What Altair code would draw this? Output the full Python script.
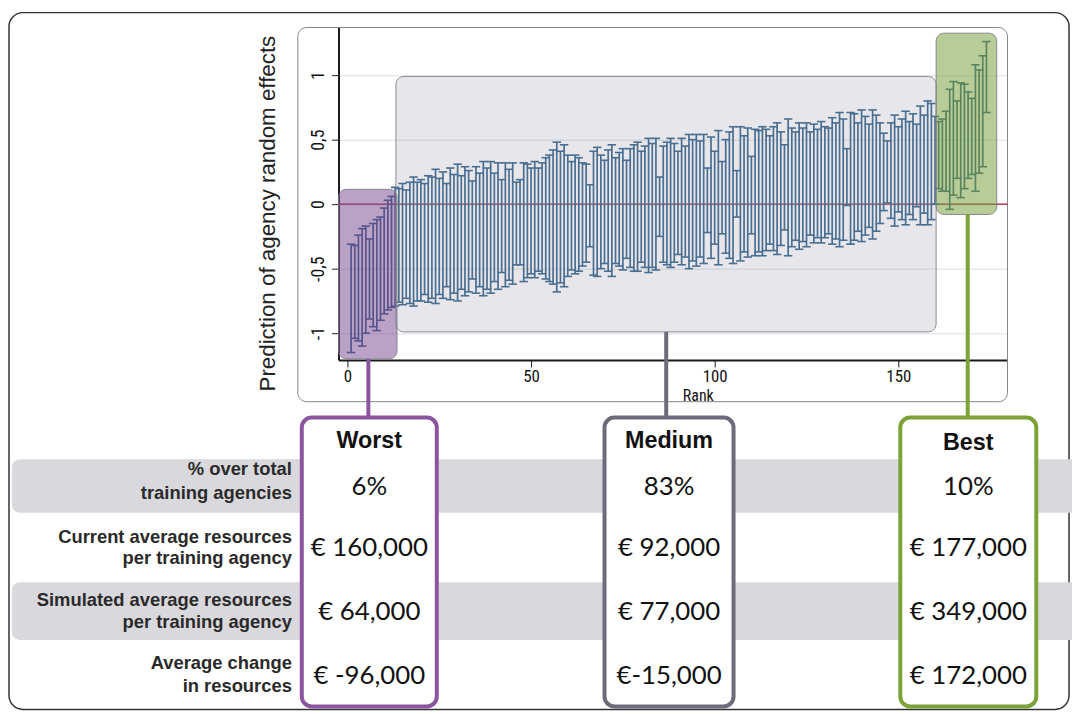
import altair as alt
import pandas as pd

# ---------------- data ----------------
lower = [
    # worst
    -1.15, -1.04, -1.06, -1.10, -1.00, -0.89, -0.95, -0.98, -0.90, -0.85, -0.82, -0.80,
    # medium
    -0.79, -0.76, -0.78, -0.73, -0.77, -0.79, -0.75, -0.75, -0.70, -0.76,
    -0.73, -0.77, -0.70, -0.73, -0.64, -0.74, -0.69, -0.75, -0.66, -0.71,
    -0.68, -0.58, -0.69, -0.64, -0.71, -0.66, -0.69, -0.60, -0.66, -0.53,
    -0.64, -0.59, -0.62, -0.47, -0.47, -0.60, -0.57, -0.54, -0.57, -0.52,
    -0.54, -0.58, -0.60, -0.62, -0.68, -0.61, -0.64, -0.56, -0.51, -0.54,
    -0.52, -0.48, -0.45, -0.33, -0.55, -0.56, -0.50, -0.46, -0.52, -0.56,
    -0.46, -0.48, -0.51, -0.42, -0.49, -0.52, -0.52, -0.45, -0.49, -0.53,
    -0.49, -0.51, -0.25, -0.45, -0.47, -0.49, -0.45, -0.39, -0.47, -0.41, -0.50,
    -0.44, -0.48, -0.41, -0.46, -0.22, -0.42, -0.31, -0.47, -0.23, -0.38,
    -0.42, -0.46, -0.10, -0.44, -0.37, -0.41, -0.23, -0.40, -0.37, -0.40,
    -0.36, -0.31, -0.36, -0.39, -0.32, -0.20, -0.40, -0.33, -0.28, -0.35,
    -0.29, -0.33, -0.24, -0.30, -0.26, -0.30, -0.26, -0.23, -0.31, -0.27,
    -0.33, -0.28, -0.01, -0.31, -0.28, -0.21, -0.29, -0.24, -0.18, -0.27,
    -0.21, -0.15, -0.05, 0.01, -0.11, -0.17, -0.06, -0.12, -0.16, -0.08,
    -0.12, -0.02, -0.16, -0.07, -0.16, -0.12, 0.00,
    # best
    0.12, 0.10, 0.10, -0.04, 0.07, 0.20, 0.05, 0.12, 0.20, 0.23, 0.10, 0.24, 0.29, 0.71,
]
upper = [
    # worst
    -0.31, -0.32, -0.24, -0.19, -0.17, -0.27, -0.15, -0.12, -0.10, -0.03, 0.03, 0.06,
    # medium
    0.13, 0.12, 0.16, 0.11, 0.17, 0.21, 0.17, 0.19, 0.16, 0.22,
    0.21, 0.27, 0.20, 0.25, 0.16, 0.28, 0.23, 0.31, 0.22, 0.29,
    0.26, 0.18, 0.29, 0.24, 0.33, 0.28, 0.33, 0.24, 0.32, 0.19,
    0.32, 0.27, 0.32, 0.17, 0.19, 0.32, 0.31, 0.28, 0.33, 0.28,
    0.32, 0.36, 0.38, 0.42, 0.48, 0.41, 0.46, 0.38, 0.33, 0.38,
    0.36, 0.32, 0.31, 0.15, 0.41, 0.44, 0.38, 0.34, 0.42, 0.46,
    0.36, 0.40, 0.43, 0.34, 0.43, 0.46, 0.48, 0.41, 0.45, 0.51,
    0.47, 0.51, 0.21, 0.45, 0.48, 0.51, 0.47, 0.41, 0.51, 0.45, 0.54,
    0.50, 0.54, 0.49, 0.54, 0.28, 0.52, 0.41, 0.57, 0.33, 0.50,
    0.56, 0.60, 0.26, 0.60, 0.53, 0.59, 0.37, 0.58, 0.57, 0.60,
    0.58, 0.53, 0.60, 0.63, 0.56, 0.46, 0.66, 0.59, 0.56, 0.63,
    0.59, 0.63, 0.56, 0.62, 0.58, 0.64, 0.60, 0.59, 0.67, 0.63,
    0.71, 0.66, 0.43, 0.71, 0.70, 0.63, 0.73, 0.68, 0.62, 0.73,
    0.69, 0.63, 0.55, 0.49, 0.63, 0.69, 0.60, 0.66, 0.72, 0.64,
    0.70, 0.62, 0.76, 0.69, 0.80, 0.78, 0.68,
    # best
    0.64, 0.66, 0.72, 0.89, 0.95, 0.80, 0.94, 0.93, 0.87, 0.82, 1.08, 1.04, 1.15, 1.26,
]
assert len(lower) == len(upper) == 174
ranks = list(range(1, len(lower) + 1))

x_ticks = [0, 50, 100, 150]
y_ticks = [-1, -0.5, 0, 0.5, 1]

groups = ["Worst", "Medium", "Best"]
row_labels = [
    ["% over total", "training agencies"],
    ["Current average resources", "per training agency"],
    ["Simulated average resources", "per training agency"],
    ["Average change", "in resources"],
]
table_values = {
    "Worst": ["6%", "€ 160,000", "€ 64,000", "€ -96,000"],
    "Medium": ["83%", "€ 92,000", "€ 77,000", "€-15,000"],
    "Best": ["10%", "€ 177,000", "€ 349,000", "€ 172,000"],
}

# ---------------- layout / style ----------------
W, H = 674, 335
X_DOMAIN = [-2.43, 179.73]
Y_DOMAIN = [-1.208, 1.369]
BAR = "#2f5f84"
ZERO = "#9e1b32"
colors = {"Worst": "#8a559c", "Medium": "#6b6b7c", "Best": "#7ca238"}
box_fill = {"Worst": ("#7b4a91", 0.52), "Medium": ("#9a9ab0", 0.25), "Best": ("#7ba23f", 0.55)}
box_rank = {"Worst": (-2.4, 13.5), "Medium": (13.2, 160.3), "Best": (160.3, 176.8)}
box_val = {"Worst": (-1.2, 0.115), "Medium": (-0.99, 0.99), "Best": (-0.08, 1.325)}
link_rank = {"Worst": 5.7, "Medium": 86.8, "Best": 168.9}
col_x = {"Worst": (-37, 99), "Medium": (268, 398), "Best": (566, 703)}
COL_TOP, COL_BOT = 393, 684
head_y = {"Worst": 417, "Medium": 417, "Best": 419}
value_y = [463, 524, 589, 653]
label_y = [(445, 469), (513, 535), (577, 599), (640, 663)]
LABEL_X = -47
bands = [(435, 489), (559, 617)]

xs = alt.Scale(domain=X_DOMAIN, nice=False, zero=False)
ys = alt.Scale(domain=Y_DOMAIN, nice=False, zero=False)
tick_font = "Liberation Sans Narrow, Roboto Condensed, Arial Narrow, sans-serif"

bars = pd.DataFrame({"rank": ranks, "lo": lower, "hi": upper})

# ---------------- decoration (pixel space) ----------------
outer = alt.Chart(pd.DataFrame({"a": [0]})).mark_rect(
    fill="white", fillOpacity=0, stroke="#333333", strokeWidth=1.5, cornerRadius=14
).encode(x=alt.value(-332), x2=alt.value(736), y=alt.value(-15), y2=alt.value(687))

band_df = pd.DataFrame({"y0": [b[0] for b in bands], "y1": [b[1] for b in bands]})
band_layer = alt.Chart(band_df).mark_rect(fill="#d9d8dc", cornerRadius=8).encode(
    x=alt.value(-329), x2=alt.value(745),
    y=alt.Y("y0:Q", scale=None, axis=None), y2="y1:Q",
)

plot_frame = alt.Chart(pd.DataFrame({"a": [0]})).mark_rect(
    fill="white", fillOpacity=0, stroke="#858585", strokeWidth=1, cornerRadius=9
).encode(x=alt.value(-41), x2=alt.value(674), y=alt.value(0), y2=alt.value(377))

# ---------------- plot ----------------
zero_line = alt.Chart(pd.DataFrame({"z": [0]})).mark_rule(color=ZERO, strokeWidth=1.2).encode(
    y=alt.Y("z:Q", scale=ys)
)

x_axis = alt.Axis(
    values=x_ticks, title="Rank", grid=False, domainColor="#1a1a1a", domainWidth=2,
    tickColor="#1a1a1a", tickSize=7, labelPadding=2, labelFont=tick_font, labelFontSize=17,
    labelColor="#111", titleFont=tick_font, titleFontSize=16, titleFontWeight="normal",
    titleColor="#111", titleX=362, titleY=36, titleBaseline="middle",
)
y_axis = alt.Axis(
    values=y_ticks, title="Prediction of agency random effects", grid=True,
    gridColor="#e4ebee", gridWidth=1.5, domainColor="#1a1a1a", domainWidth=2,
    tickColor="#1a1a1a", tickSize=7, labelPadding=4, labelAngle=-90, labelAlign="center",
    labelBaseline="bottom", labelFont=tick_font, labelFontSize=18, labelColor="#111",
    labelExpr="replace(replace(format(datum.value, '~g'), '.', ','), '−', '-')",
    titleFont="Liberation Sans, Arial, sans-serif", titleFontSize=22.5, titleFontWeight="normal",
    titleColor="#222", titleX=-71, titleY=187, titleAlign="center", titleBaseline="middle",
)

err_rules = alt.Chart(bars).mark_rule(color=BAR, strokeWidth=1.7).encode(
    x=alt.X("rank:Q", scale=xs, axis=x_axis),
    y=alt.Y("lo:Q", scale=ys, axis=y_axis),
    y2="hi:Q",
)
cap_lo = alt.Chart(bars).mark_tick(orient="horizontal", color=BAR, size=8.5, thickness=1.6, opacity=1).encode(
    x=alt.X("rank:Q", scale=xs), y=alt.Y("lo:Q", scale=ys)
)
cap_hi = alt.Chart(bars).mark_tick(orient="horizontal", color=BAR, size=8.5, thickness=1.6, opacity=1).encode(
    x=alt.X("rank:Q", scale=xs), y=alt.Y("hi:Q", scale=ys)
)

box_layers = []
for g in groups:
    fill, op = box_fill[g]
    dfb = pd.DataFrame({"r0": [box_rank[g][0]], "r1": [box_rank[g][1]],
                        "v0": [box_val[g][0]], "v1": [box_val[g][1]]})
    box_layers.append(
        alt.Chart(dfb).mark_rect(fill=fill, fillOpacity=op, stroke="#7e7e88", strokeWidth=1,
                                 strokeOpacity=0.9, cornerRadius=8).encode(
            x=alt.X("r0:Q", scale=xs), x2="r1:Q", y=alt.Y("v0:Q", scale=ys), y2="v1:Q"
        )
    )

link_layers = []
for g in groups:
    dfl = pd.DataFrame({"r": [link_rank[g]], "v": [box_val[g][0]]})
    link_layers.append(
        alt.Chart(dfl).mark_rule(color=colors[g], strokeWidth=4).encode(
            x=alt.X("r:Q", scale=xs), y=alt.Y("v:Q", scale=ys), y2=alt.value(COL_TOP)
        )
    )

col_df = pd.DataFrame({
    "g": groups,
    "x0": [col_x[g][0] for g in groups],
    "x1": [col_x[g][1] for g in groups],
})
col_boxes = alt.Chart(col_df).mark_rect(fill="white", strokeWidth=4, cornerRadius=10).encode(
    x=alt.X("x0:Q", scale=None, axis=None), x2="x1:Q",
    y=alt.value(COL_TOP), y2=alt.value(COL_BOT),
    stroke=alt.Stroke("g:N", scale=alt.Scale(domain=groups, range=[colors[g] for g in groups]), legend=None),
)

# ---------------- table text ----------------
head_df = pd.DataFrame({
    "t": groups,
    "px": [(col_x[g][0] + col_x[g][1]) / 2 for g in groups],
    "py": [head_y[g] for g in groups],
})
heads = alt.Chart(head_df).mark_text(
    font="Liberation Sans, Arial, sans-serif", fontSize=23.5, fontWeight="bold", color="#111", baseline="middle"
).encode(x=alt.X("px:Q", scale=None, axis=None), y=alt.Y("py:Q", scale=None, axis=None), text="t:N")

val_rows = []
for g in groups:
    for i, v in enumerate(table_values[g]):
        val_rows.append({"t": v, "px": (col_x[g][0] + col_x[g][1]) / 2, "py": value_y[i]})
vals = alt.Chart(pd.DataFrame(val_rows)).mark_text(
    font="Lato, Open Sans, sans-serif", fontSize=26, color="#111", baseline="middle"
).encode(x=alt.X("px:Q", scale=None, axis=None), y=alt.Y("py:Q", scale=None, axis=None), text="t:N")

lab_rows = []
for i, lines in enumerate(row_labels):
    for j, line in enumerate(lines):
        lab_rows.append({"t": line, "px": LABEL_X, "py": label_y[i][j]})
labs = alt.Chart(pd.DataFrame(lab_rows)).mark_text(
    font="Liberation Sans, Arial, sans-serif", fontSize=18.5, fontWeight="bold", color="#2a2a2a",
    align="right", baseline="middle"
).encode(x=alt.X("px:Q", scale=None, axis=None), y=alt.Y("py:Q", scale=None, axis=None), text="t:N")

chart = alt.layer(
    outer, band_layer, plot_frame, zero_line, err_rules, cap_lo, cap_hi,
    *box_layers, *link_layers, col_boxes, heads, vals, labs,
).properties(
    width=W, height=H,
    padding={"left": 333, "top": 17, "right": 65, "bottom": 354},
    autosize=alt.AutoSizeParams(type="none"),
).configure_view(strokeWidth=0)

chart.save("out.html", embed_options={"renderer": "svg", "actions": False})
